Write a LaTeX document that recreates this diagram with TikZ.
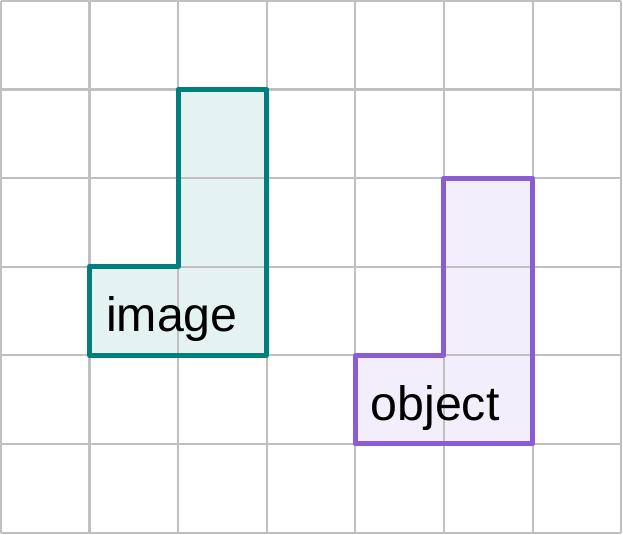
\documentclass[tikz,border=0pt]{standalone}
\usepackage{fontspec}
\setmainfont{Liberation Sans}
\definecolor{imgteal}{HTML}{007F7F}
\definecolor{objpurple}{HTML}{8A5CD6}
\definecolor{gridgray}{HTML}{C0C0C0}
\begin{document}
\begin{tikzpicture}[line join=round,
    outline/.style={line width=1.6pt},
    lbl/.style={anchor=base,font=\fontsize{15.5}{18}\selectfont}]
    \useasboundingbox (-0.01,-0.02) rectangle (7.02,6.01);
    \fill[imgteal,fill opacity=.1] (1,3)--(2,3)--(2,5)--(3,5)--(3,2)--(1,2)--cycle;
    \fill[objpurple,fill opacity=.1] (4,2)--(5,2)--(5,4)--(6,4)--(6,1)--(4,1)--cycle;
    \draw[gridgray,line width=.65pt] (0,0) grid (7,6);
    \draw[outline,imgteal] (1,3)--(2,3)--(2,5)--(3,5)--(3,2)--(1,2)--cycle;
    \draw[outline,objpurple] (4,2)--(5,2)--(5,4)--(6,4)--(6,1)--(4,1)--cycle;
    \node[lbl] (image) at (1.93,2.27) {image};
    \node[lbl] (object) at (4.90,1.265) {object};
  \end{tikzpicture}
\end{document}
